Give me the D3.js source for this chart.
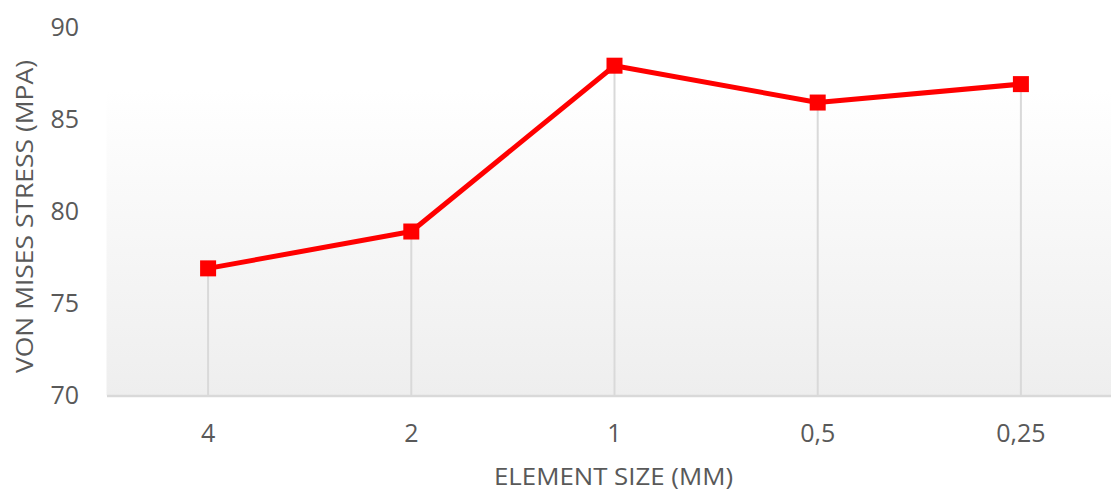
<!DOCTYPE html>
<html><head><meta charset="utf-8">
<script src="https://cdn.jsdelivr.net/npm/d3@7"></script>
<style>body{margin:0;background:#fff;}svg{display:block;}</style>
</head><body>
<svg id="c" width="1111" height="492"></svg>
<script>
const categories = ["4","2","1","0,5","0,25"];
const values = [76.9, 78.9, 87.9, 85.9, 86.9];
const yTicks = [70, 75, 80, 85, 90];
const xTitle = "ELEMENT SIZE (MM)";
const yTitle = "VON MISES STRESS (MPA)";

(function(){
const svg = d3.select("#c");
const mLeft = 106.5, mRight = 1122.5, mTop = 27, mBottom = 395.5;
const x = d3.scaleBand().domain(categories).range([mLeft, mRight]);
const y = d3.scaleLinear().domain([70, 90]).range([mBottom, mTop]);
const font = "'Open Sans', sans-serif";
const grey = "#595959";

const defs = svg.append("defs");
const g = defs.append("linearGradient").attr("id","bg").attr("x1",0).attr("y1",0).attr("x2",0).attr("y2",1);
g.append("stop").attr("offset","0%").attr("stop-color","#ffffff");
g.append("stop").attr("offset","100%").attr("stop-color","#eeeeee");

svg.append("rect").attr("x", mLeft).attr("y", 89).attr("width", 1111-mLeft).attr("height", mBottom-89).attr("fill","url(#bg)");

const cx = (i)=>x(categories[i])+x.bandwidth()/2;

// drop lines
svg.append("g").selectAll("line").data(values).join("line")
  .attr("x1",(d,i)=>cx(i)).attr("x2",(d,i)=>cx(i))
  .attr("y1",d=>y(d)).attr("y2",mBottom)
  .attr("stroke","#d9d9d9").attr("stroke-width",2);

// x axis
const xa = svg.append("g").attr("transform",`translate(0,${mBottom})`).call(d3.axisBottom(x).tickSize(0).tickPadding(28.5));
xa.select(".domain").attr("stroke","#d9d9d9").attr("stroke-width",2.5);
xa.selectAll("text").attr("font-family",font).attr("font-size",25).attr("fill",grey);

// y axis
const ya = svg.append("g").attr("transform",`translate(${mLeft},0)`).call(d3.axisLeft(y).tickValues(yTicks).tickSize(0).tickPadding(27.5));
ya.select(".domain").remove();
ya.selectAll("text").attr("font-family",font).attr("font-size",25).attr("fill",grey);

// titles
svg.append("text").attr("x", 613.5).attr("y", 485)
  .attr("text-anchor","middle").attr("font-family",font).attr("font-size",24)
  .attr("textLength",239).attr("lengthAdjust","spacingAndGlyphs").attr("fill",grey).text(xTitle);
svg.append("text").attr("transform","translate(33,216.5) rotate(-90)")
  .attr("text-anchor","middle").attr("font-family",font).attr("font-size",24)
  .attr("textLength",313).attr("lengthAdjust","spacingAndGlyphs").attr("fill",grey).text(yTitle);

// line
const line = d3.line().x((d,i)=>cx(i)).y(d=>y(d));
svg.append("path").datum(values).attr("d",line).attr("fill","none").attr("stroke","#ff0000").attr("stroke-width",5).attr("stroke-linejoin","round");

svg.append("g").selectAll("rect").data(values).join("rect")
  .attr("x",(d,i)=>cx(i)-8)
  .attr("y",d=>y(d)-8).attr("width",16).attr("height",16).attr("fill","#ff0000");
})();
</script>
</body></html>
